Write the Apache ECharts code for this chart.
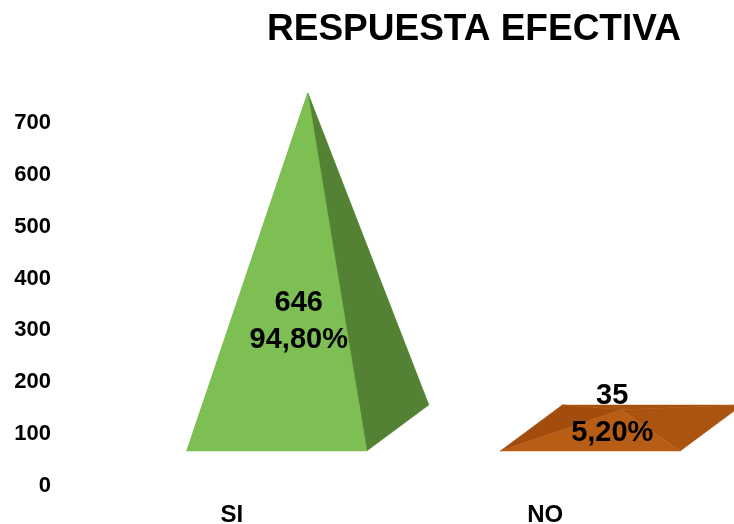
<!DOCTYPE html>
<html>
<head>
<meta charset="utf-8">
<script src="https://cdn.jsdelivr.net/npm/echarts@6/dist/echarts.min.js"></script>
<style>
  html, body { margin: 0; padding: 0; background: #fff; }
  #chart { width: 734px; height: 524px; }
</style>
</head>
<body>
<div id="chart"></div>
<script>
// Respuestas por categoría
const categories = ['SI', 'NO'];
const counts = [646, 35];
const percentLabels = ['94,80%', '5,20%'];
const yTicks = [0, 100, 200, 300, 400, 500, 600, 700];

// Face colours for each pyramid: front, left, right, back
const faceColors = [
  { front: '#7dbf53', left: '#6aa644', right: '#548235', back: '#6aa644' },
  { front: '#b85d16', left: '#a24d0d', right: '#ab5411', back: '#a7520f' }
];

const FONT = "'Liberation Sans', Arial, sans-serif";

// Oblique 3D projection: shift of the floor centre, half base width, half depth vector
const SHIFT_X = 76, SHIFT_Y = -58;
const HALF_W = 90;
const DEPTH_X = 31, DEPTH_Y = -23;

function renderPyramid(params, api) {
  const idx = api.value(0);
  const val = api.value(1);
  const zero = api.coord([idx, 0]);
  const top = api.coord([idx, val]);
  const cx = zero[0] + SHIFT_X;
  const cy = zero[1] + SHIFT_Y;
  const ay = top[1] + SHIFT_Y;
  const FL = [cx - DEPTH_X - HALF_W, cy - DEPTH_Y];
  const FR = [cx - DEPTH_X + HALF_W, cy - DEPTH_Y];
  const BL = [cx + DEPTH_X - HALF_W, cy + DEPTH_Y];
  const BR = [cx + DEPTH_X + HALF_W, cy + DEPTH_Y];
  const A = [cx, ay];
  const c = faceColors[idx];
  const face = (pts, color) => ({
    type: 'polygon',
    shape: { points: pts },
    style: { fill: color, stroke: color, lineWidth: 0.5 }
  });
  const mid = api.coord([idx, val / 2]);
  const labelY = Math.min(mid[1] + 3, cy - 14);
  return {
    type: 'group',
    children: [
      face([BL, BR, A], c.back),
      face([FL, BL, A], c.left),
      face([FR, BR, A], c.right),
      face([FL, FR, A], c.front),
      {
        type: 'text',
        z2: 10,
        style: {
          x: cx - 9,
          y: labelY,
          text: val + '\n' + percentLabels[idx],
          fill: '#000',
          font: 'bold 29px ' + FONT,
          lineHeight: 37,
          align: 'center',
          verticalAlign: 'middle'
        }
      }
    ]
  };
}

const chart = echarts.init(document.getElementById('chart'), null, { renderer: 'canvas' });
chart.setOption({
  animation: false,
  backgroundColor: '#fff',
  title: {
    text: 'RESPUESTA EFECTIVA',
    left: 262,
    top: 6,
    textStyle: { fontFamily: FONT, fontWeight: 'bold', fontSize: 37, color: '#000' }
  },
  grid: { left: 75, right: 32, top: 123, bottom: 38, containLabel: false, outerBoundsMode: 'none' },
  xAxis: {
    type: 'category',
    data: categories,
    axisLine: { show: false },
    axisTick: { show: false },
    splitLine: { show: false },
    axisLabel: { margin: 17, color: '#000', fontFamily: FONT, fontWeight: 'bold', fontSize: 24 }
  },
  yAxis: {
    type: 'value',
    min: yTicks[0],
    max: yTicks[yTicks.length - 1],
    interval: yTicks[1] - yTicks[0],
    axisLine: { show: false },
    axisTick: { show: false },
    splitLine: { show: false },
    axisLabel: { margin: 24, color: '#000', fontFamily: FONT, fontWeight: 'bold', fontSize: 22 }
  },
  series: [{
    type: 'custom',
    renderItem: renderPyramid,
    clip: false,
    encode: { x: 0, y: 1 },
    data: counts.map((v, i) => [i, v])
  }]
});
</script>
</body>
</html>
